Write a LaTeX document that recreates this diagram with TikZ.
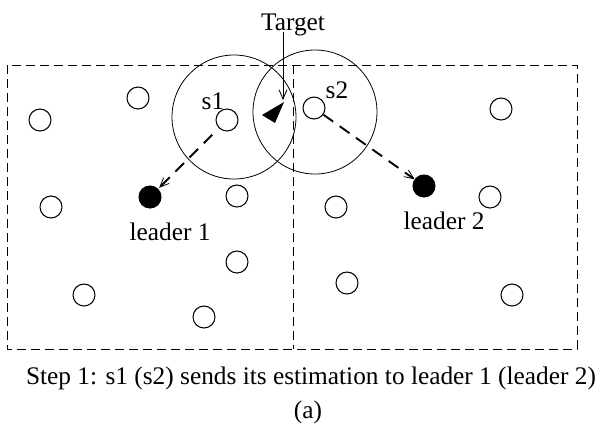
\documentclass[tikz,border=0pt]{standalone}
\usepackage{fontspec}
\setmainfont{Liberation Serif}
\usetikzlibrary{arrows, arrows.meta, positioning}

\begin{document}
\begin{tikzpicture}[x=0.75pt,y=-0.75pt,>={Straight Barb[length=7pt,width=6pt,line width=0.6pt]},font=\fontsize{19}{23}\selectfont]
  \tikzstyle{sensor}=[circle,draw,line width=0.8pt,minimum size=16.5pt,inner sep=0pt]
  \tikzstyle{leader}=[sensor,fill=black]
  \tikzstyle{srange}=[circle,draw,line width=0.6pt,minimum size=93pt,inner sep=0pt]
  \tikzstyle{region}=[dash pattern=on 6.5pt off 4pt,line width=0.6pt]
  \tikzstyle{report}=[->,dash pattern=on 9pt off 6pt,line width=1.4pt]

  \useasboundingbox (0,0) rectangle (608,430);

  % the two clusters
  \draw[region] (7,65) rectangle (577,349);
  \draw[region] (293,65) -- (293,349);

  % sensing ranges
  \node[srange] (r1) at (234,117) {};
  \node[srange] (r2) at (315,112) {};

  % sensors, left cluster
  \node[sensor] (a1) at (40,120)  {};
  \node[sensor] (a2) at (138,98)  {};
  \node[sensor] (s1) at (227,120) {};
  \node[sensor] (a3) at (51,207)  {};
  \node[sensor] (a4) at (237,196) {};
  \node[sensor] (a5) at (237,262) {};
  \node[sensor] (a6) at (84,295)  {};
  \node[sensor] (a7) at (204,317) {};
  \node[leader] (lead1) at (150,197) {};

  % sensors, right cluster
  \node[sensor] (s2) at (314,108) {};
  \node[sensor] (b1) at (501,109) {};
  \node[sensor] (b2) at (490,197) {};
  \node[sensor] (b3) at (336,207) {};
  \node[sensor] (b4) at (347,283) {};
  \node[sensor] (b5) at (512,295) {};
  \node[leader] (lead2) at (424,186) {};

  \node (l1) [below=7pt of lead1, xshift=15pt] {leader 1};
  \node (l2) [below=7pt of lead2, xshift=15pt] {leader 2};
  \node (n1) at (213,101) {s1};
  \node (n2) at (337,90)  {s2};

  % target
  \fill (262,115) -- (284,102) -- (275,123) -- cycle;
  \coordinate (tgt) at (283,100);
  \node (target) at (293,25) {Target};

  \path[->,line width=0.5pt]
  ([yshift=-5pt]target.center -| tgt) edge (tgt)
  ;
  \path[report]
  (s1) edge [shorten <=7pt,shorten >=1pt] (lead1)
  (s2) edge (lead2)
  ;

  \node (step) at (311,378) {Step 1: s1 (s2) sends its estimation to leader 1 (leader 2)};
  \node (sub)  at (308,412) {(a)};
\end{tikzpicture}
\end{document}
